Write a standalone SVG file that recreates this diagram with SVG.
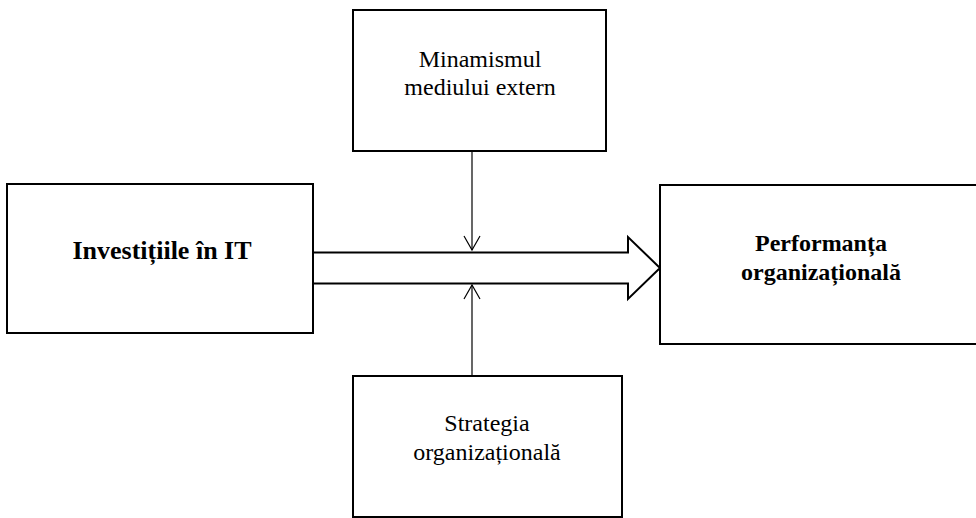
<svg xmlns="http://www.w3.org/2000/svg" width="976" height="518" viewBox="0 0 976 518">
<style>
.box{fill:#fff;stroke:#000;stroke-width:2}
.t{font-family:"Liberation Serif","Times New Roman",serif;font-size:24px;fill:#000;text-anchor:middle}
.b{font-weight:bold}
.line{stroke:#000;stroke-width:1.2;fill:none}
.big{fill:#fff;stroke:#000;stroke-width:2;stroke-linejoin:miter}
</style>
<defs>
<marker id="open" markerWidth="18" markerHeight="18" viewBox="0 0 18 18" refX="16" refY="9" orient="auto" markerUnits="userSpaceOnUse">
<path d="M2,1 L16,9 L2,17" fill="none" stroke="#000" stroke-width="1.2"/>
</marker>
</defs>
<rect width="976" height="518" fill="#fff"/>
<g id="connectors">
<path class="big" d="M313,252.5 H628 V237 L660,268 L628,299 V283.5 H313"/>
<line class="line" x1="472" y1="151" x2="472" y2="250" marker-end="url(#open)"/>
<line class="line" x1="472" y1="376" x2="472" y2="285" marker-end="url(#open)"/>
</g>
<g id="node-top">
<rect class="box" x="353" y="10" width="253" height="141"/>
<text class="t" x="480" y="67">Minamismul</text>
<text class="t" x="480" y="95">mediului extern</text>
</g>
<g id="node-left">
<rect class="box" x="7" y="184" width="306" height="149"/>
<text class="t b" x="162" y="259" style="font-size:26px">Investițiile în IT</text>
</g>
<g id="node-right">
<rect class="box" x="660" y="185" width="330" height="159"/>
<text class="t b" x="821" y="251">Performanța</text>
<text class="t b" x="821" y="280">organizațională</text>
</g>
<g id="node-bottom">
<rect class="box" x="353" y="376" width="269" height="141"/>
<text class="t" x="487" y="431">Strategia</text>
<text class="t" x="487" y="460">organizațională</text>
</g>
</svg>
